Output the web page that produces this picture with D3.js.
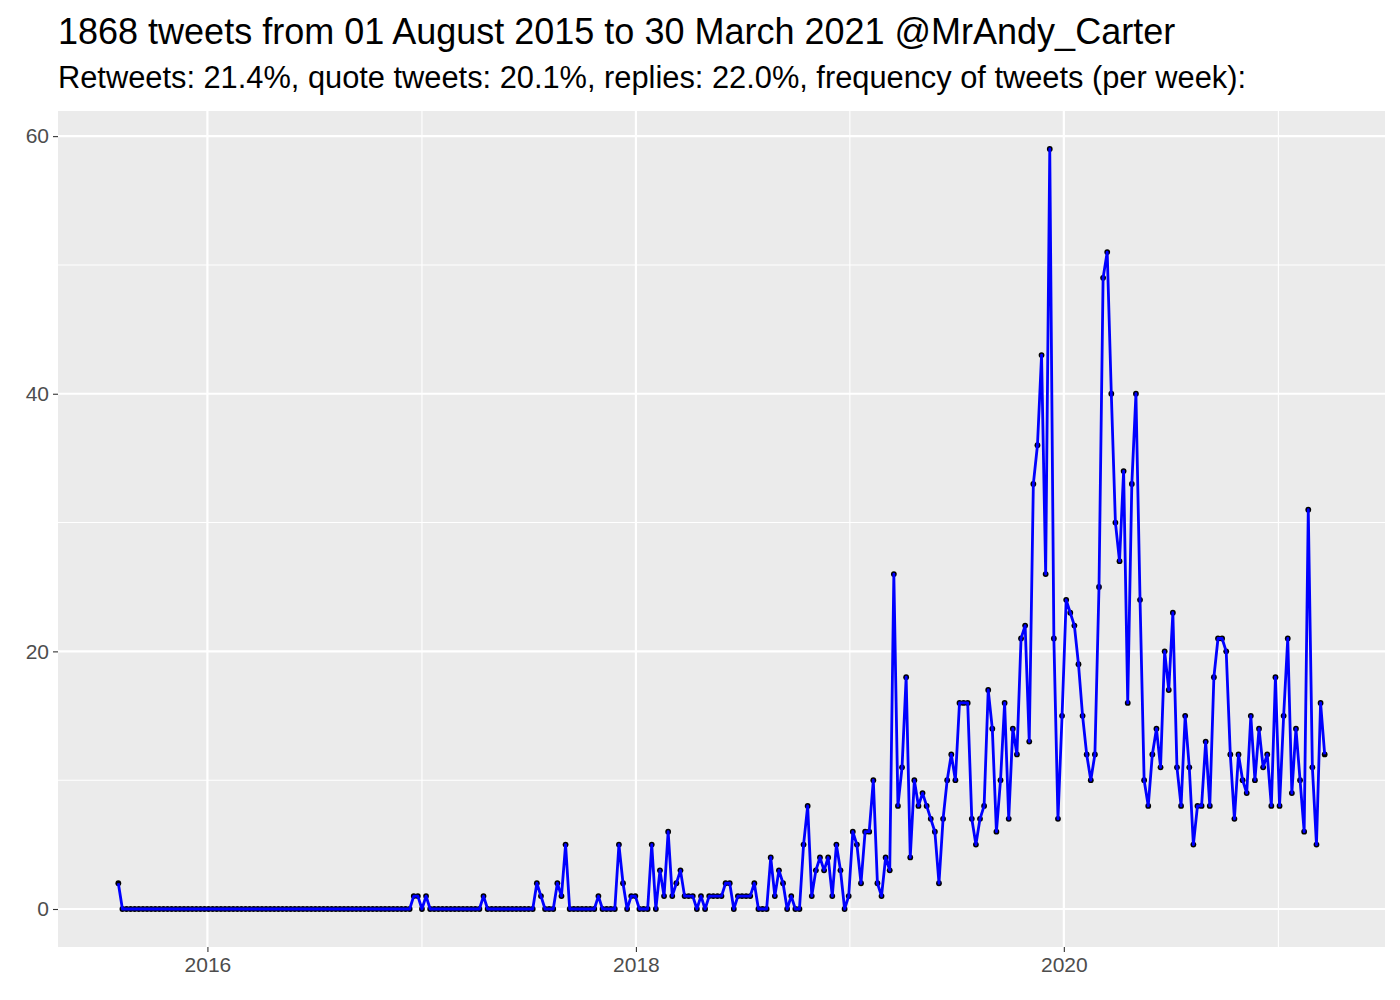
<!DOCTYPE html>
<html>
<head>
<meta charset="utf-8">
<script src="https://cdn.jsdelivr.net/npm/d3@7"></script>
<style>
  body { margin: 0; background: #ffffff; }
  svg { display: block; font-family: "Liberation Sans", Arial, sans-serif; }
</style>
</head>
<body>
<div id="chart"></div>
<script>
// weekly tweet counts, one value per week starting at firstWeek
var firstWeek = "2015-08-02";
var tweetsPerWeek = [
    2, 0, 0, 0, 0, 0, 0, 0, 0, 0,
    0, 0, 0, 0, 0, 0, 0, 0, 0, 0,
    0, 0, 0, 0, 0, 0, 0, 0, 0, 0,
    0, 0, 0, 0, 0, 0, 0, 0, 0, 0,
    0, 0, 0, 0, 0, 0, 0, 0, 0, 0,
    0, 0, 0, 0, 0, 0, 0, 0, 0, 0,
    0, 0, 0, 0, 0, 0, 0, 0, 0, 0,
    0, 0, 1, 1, 0, 1, 0, 0, 0, 0,
    0, 0, 0, 0, 0, 0, 0, 0, 0, 1,
    0, 0, 0, 0, 0, 0, 0, 0, 0, 0,
    0, 0, 2, 1, 0, 0, 0, 2, 1, 5,
    0, 0, 0, 0, 0, 0, 0, 1, 0, 0,
    0, 0, 5, 2, 0, 1, 1, 0, 0, 0,
    5, 0, 3, 1, 6, 1, 2, 3, 1, 1,
    1, 0, 1, 0, 1, 1, 1, 1, 2, 2,
    0, 1, 1, 1, 1, 2, 0, 0, 0, 4,
    1, 3, 2, 0, 1, 0, 0, 5, 8, 1,
    3, 4, 3, 4, 1, 5, 3, 0, 1, 6,
    5, 2, 6, 6, 10, 2, 1, 4, 3, 26,
    8, 11, 18, 4, 10, 8, 9, 8, 7, 6,
    2, 7, 10, 12, 10, 16, 16, 16, 7, 5,
    7, 8, 17, 14, 6, 10, 16, 7, 14, 12,
    21, 22, 13, 33, 36, 43, 26, 59, 21, 7,
    15, 24, 23, 22, 19, 15, 12, 10, 12, 25,
    49, 51, 40, 30, 27, 34, 16, 33, 40, 24,
    10, 8, 12, 14, 11, 20, 17, 23, 11, 8,
    15, 11, 5, 8, 8, 13, 8, 18, 21, 21,
    20, 12, 7, 12, 10, 9, 15, 10, 14, 11,
    12, 8, 18, 8, 15, 21, 9, 14, 10, 6,
    31, 11, 5, 16, 12
];
var yTicks = [0, 20, 40, 60];
var yMinorTicks = [10, 30, 50];
var xTickYears = [2016, 2018, 2020];
var xMinorYears = [2017, 2019, 2021];

var titleText = "1868 tweets from 01 August 2015 to 30 March 2021 @MrAndy_Carter";
var subtitleText = "Retweets: 21.4%, quote tweets: 20.1%, replies: 22.0%, frequency of tweets (per week):";

function drawChart(element) {
    var width = 1400, height = 1000;
    var panel = { left: 58, right: 1385, top: 111, bottom: 947 };

    var start = d3.timeParse("%Y-%m-%d")(firstWeek);
    var data = tweetsPerWeek.map(function (v, i) {
        return { date: d3.timeDay.offset(start, 7 * i), n: v };
    });

    // ggplot style 5% expansion on both axes
    var xExt = d3.extent(data, function (d) { return +d.date; });
    var xPad = (xExt[1] - xExt[0]) * 0.05;
    var x = d3.scaleTime()
        .domain([new Date(xExt[0] - xPad), new Date(xExt[1] + xPad)])
        .range([panel.left, panel.right]);

    var yMax = d3.max(data, function (d) { return d.n; });
    var yPad = yMax * 0.05;
    var y = d3.scaleLinear()
        .domain([-yPad, yMax + yPad])
        .range([panel.bottom, panel.top]);

    var svg = d3.select(element)
        .append("svg")
        .attr("width", width)
        .attr("height", height);

    svg.append("rect")
        .attr("x", panel.left)
        .attr("y", panel.top)
        .attr("width", panel.right - panel.left)
        .attr("height", panel.bottom - panel.top)
        .attr("fill", "#EBEBEB");

    var grid = svg.append("g");
    var yearDate = function (yr) { return new Date(yr, 0, 1); };

    grid.selectAll(".ymin").data(yMinorTicks).enter().append("line")
        .attr("x1", panel.left).attr("x2", panel.right)
        .attr("y1", function (d) { return y(d); })
        .attr("y2", function (d) { return y(d); })
        .attr("stroke", "#ffffff").attr("stroke-width", 1.1);
    grid.selectAll(".xmin").data(xMinorYears).enter().append("line")
        .attr("y1", panel.top).attr("y2", panel.bottom)
        .attr("x1", function (d) { return x(yearDate(d)); })
        .attr("x2", function (d) { return x(yearDate(d)); })
        .attr("stroke", "#ffffff").attr("stroke-width", 1.1);
    grid.selectAll(".ymaj").data(yTicks).enter().append("line")
        .attr("x1", panel.left).attr("x2", panel.right)
        .attr("y1", function (d) { return y(d); })
        .attr("y2", function (d) { return y(d); })
        .attr("stroke", "#ffffff").attr("stroke-width", 2.2);
    grid.selectAll(".xmaj").data(xTickYears).enter().append("line")
        .attr("y1", panel.top).attr("y2", panel.bottom)
        .attr("x1", function (d) { return x(yearDate(d)); })
        .attr("x2", function (d) { return x(yearDate(d)); })
        .attr("stroke", "#ffffff").attr("stroke-width", 2.2);

    // axes
    var yAxis = d3.axisLeft(y)
        .tickValues(yTicks)
        .tickSize(5)
        .tickPadding(4);
    var gy = svg.append("g")
        .attr("transform", "translate(" + panel.left + ",0)")
        .call(yAxis);

    var xAxis = d3.axisBottom(x)
        .tickValues(xTickYears.map(yearDate))
        .tickFormat(d3.timeFormat("%Y"))
        .tickSize(5)
        .tickPadding(5);
    var gx = svg.append("g")
        .attr("transform", "translate(0," + panel.bottom + ")")
        .call(xAxis);

    [gx, gy].forEach(function (g) {
        g.select(".domain").remove();
        g.selectAll(".tick line").attr("stroke", "#333333").attr("stroke-width", 1.1);
        g.selectAll(".tick text")
            .attr("fill", "#4D4D4D")
            .attr("font-size", "21px")
            .attr("font-family", "Liberation Sans, Arial, sans-serif");
    });

    // points under the line
    svg.append("g").selectAll("circle")
        .data(data)
        .enter()
        .append("circle")
        .attr("cx", function (d) { return x(d.date); })
        .attr("cy", function (d) { return y(d.n); })
        .attr("r", 2.9)
        .attr("fill", "#000000");

    var line = d3.line()
        .x(function (d) { return x(d.date); })
        .y(function (d) { return y(d.n); });

    svg.append("path")
        .datum(data)
        .attr("d", line)
        .attr("fill", "none")
        .attr("stroke", "#0000FF")
        .attr("stroke-width", 2.8)
        .attr("stroke-linejoin", "round");

    svg.append("text")
        .attr("x", panel.left)
        .attr("y", 44)
        .attr("font-size", "36px")
        .attr("fill", "#000000")
        .text(titleText);

    svg.append("text")
        .attr("x", panel.left)
        .attr("y", 88)
        .attr("font-size", "30.8px")
        .attr("fill", "#000000")
        .text(subtitleText);
}

drawChart("#chart");
</script>
</body>
</html>
